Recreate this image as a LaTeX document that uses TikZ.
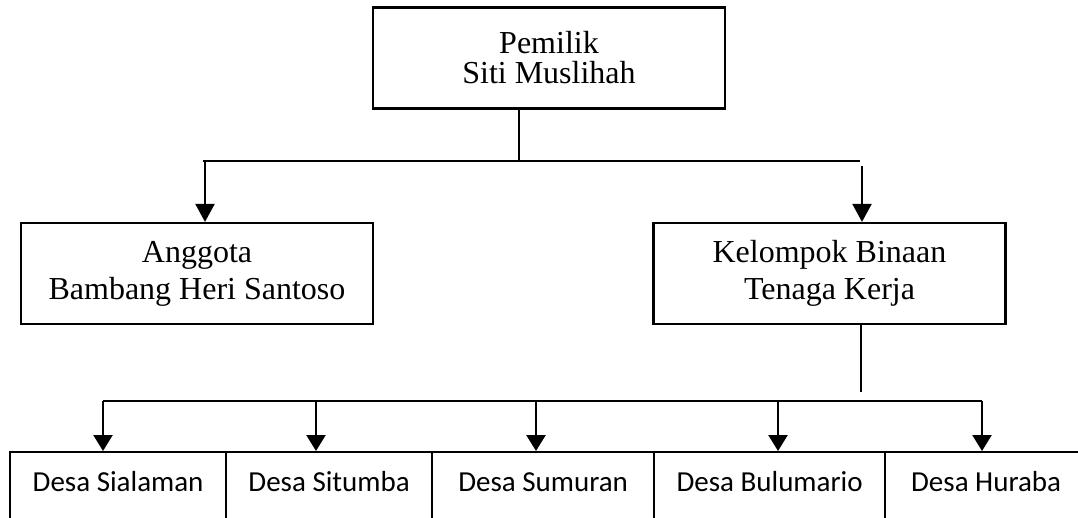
\documentclass[tikz,border=0pt]{standalone}
\usepackage{fontspec}
\setmainfont{Liberation Serif}
\newfontfamily\calib{Carlito}
\usetikzlibrary{arrows.meta}
\tikzset{
  box/.style={draw, line width=2.2pt, minimum width=352pt, minimum height=101pt,
    inner sep=0pt, align=center, font=\fontsize{32}{37}\selectfont},
  topbox/.style={box, font=\fontsize{32}{30}\selectfont},
  cell/.style={draw, line width=2.2pt, anchor=north west, inner sep=0pt,
    text height=39pt, text depth=81pt, align=center, font=\calib\fontsize{29}{34}\selectfont},
  thinline/.style={line width=1.6pt},
  arr/.style={line width=2.2pt, -{Triangle[length=18pt,width=19pt]}},
  barline/.style={line width=2.4pt},
  barr/.style={line width=2.4pt, -{Triangle[length=16pt,width=19pt]}}
}
\begin{document}
\begin{tikzpicture}[x=1pt,y=-1pt]
\useasboundingbox (0,0) rectangle (1078,517);
\clip (0,0) rectangle (1078,517);
% top level boxes
\node[topbox] (own) at (549,58) {Pemilik\\Siti Muslihah};
\node[box] (mem) at (197,273.5) {Anggota\\Bambang Heri Santoso};
\node[box] (grp) at (829.5,273.5) {Kelompok Binaan\\Tenaga Kerja};
% bottom row cells
\node[cell, minimum width=216pt] (c1) at (9,451) {Desa Sialaman};
\node[cell, minimum width=206pt] (c2) at (225,451) {Desa Situmba};
\node[cell, minimum width=222pt] (c3) at (431,451) {Desa Sumuran};
\node[cell, minimum width=231pt] (c4) at (653,451) {Desa Bulumario};
\node[cell, minimum width=202pt] (c5) at (884,451) {Desa Huraba};
% upper connectors
\coordinate (j0) at (519,161);
\coordinate (hl) at (203,161);
\coordinate (hr) at (860,161);
\coordinate (al) at (205,161);
\coordinate (ar) at (862,166);
\draw[thinline] (own.south -| j0) -- (j0);
\draw[thinline] (hl) -- (hr);
\draw[arr] (al) -- (al |- mem.north);
\draw[arr] (ar) -- (ar |- grp.north);
% lower connectors
\coordinate (gb) at (861,392);
\draw[thinline] (grp.south -| gb) -- (gb);
\coordinate (h1) at (103,401);
\coordinate (h2) at (316,401);
\coordinate (h3) at (536,401);
\coordinate (h4) at (778,401);
\coordinate (h5) at (982,401);
\draw[barline] (h1) -- (h5);
\draw[barr] (h1) -- (h1 |- c1.north);
\draw[barr] (h2) -- (h2 |- c2.north);
\draw[barr] (h3) -- (h3 |- c3.north);
\draw[barr] (h4) -- (h4 |- c4.north);
\draw[barr] (h5) -- (h5 |- c5.north);
\end{tikzpicture}
\end{document}
